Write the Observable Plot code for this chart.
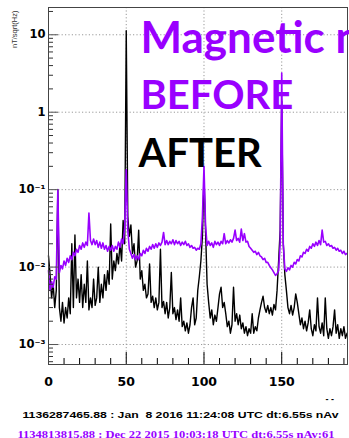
<!DOCTYPE html>
<html><head><meta charset="utf-8">
<script src="https://cdn.jsdelivr.net/npm/d3@7"></script>
<script src="https://cdn.jsdelivr.net/npm/@observablehq/plot@0.6"></script>
<style>body{margin:0;background:#fff;overflow:hidden}</style>
</head><body><div id="chart"></div><script>
// frequency bins (Hz), 1 Hz spacing
const freq = d3.range(0, 193);
// BEFORE spectrum (nT/sqrt(Hz)), purple
const before = [
0.009,0.005,0.0065,0.0055,0.0075,0.007,0.1,0.0085,0.0105,0.0095,
0.012,0.0105,0.013,0.0115,0.014,0.0125,0.0155,0.014,0.017,0.0155,
0.019,0.017,0.0205,0.018,0.021,0.019,0.05,0.022,0.0195,0.023,
0.0195,0.022,0.018,0.021,0.0175,0.0205,0.017,0.019,0.016,0.0185,
0.0165,0.019,0.016,0.0185,0.017,0.021,0.018,0.023,0.02,0.032,
0.18,0.03,0.017,0.015,0.013,0.0145,0.0125,0.014,0.0125,0.015,
0.014,0.0165,0.015,0.0175,0.016,0.0185,0.017,0.0195,0.0175,0.02,
0.018,0.0205,0.019,0.021,0.028,0.0195,0.022,0.0195,0.0215,0.02,
0.0225,0.0195,0.022,0.02,0.0215,0.019,0.021,0.0195,0.0215,0.019,
0.02,0.018,0.019,0.0175,0.018,0.0165,0.0175,0.017,0.02,0.045,
0.2,0.035,0.019,0.0215,0.019,0.0205,0.018,0.0215,0.0195,0.021,
0.019,0.0215,0.02,0.027,0.02,0.022,0.0205,0.0225,0.021,0.0235,
0.03,0.022,0.0235,0.021,0.031,0.022,0.027,0.021,0.0215,0.0185,
0.0175,0.0165,0.0155,0.016,0.0145,0.0155,0.014,0.0135,0.0125,0.013,
0.0115,0.0115,0.0105,0.0098,0.0092,0.0085,0.0078,0.0082,0.009,0.02,
3.2,0.02,0.0095,0.0088,0.0098,0.0092,0.0105,0.01,0.0115,0.011,
0.0125,0.012,0.014,0.0135,0.0155,0.015,0.017,0.016,0.0185,0.0175,
0.02,0.0185,0.021,0.019,0.022,0.0195,0.03,0.021,0.0215,0.019,
0.02,0.0185,0.019,0.0175,0.018,0.0165,0.0175,0.016,0.0165,0.015,
0.016,0.0145,0.015
];
// AFTER spectrum (nT/sqrt(Hz)), black
const after = [
0.014,0.008,0.004,0.006,0.003,0.005,0.1,0.003,0.002,0.0035,
0.0019,0.003,0.0022,0.004,0.0025,0.02,0.003,0.026,0.004,0.007,
0.0035,0.008,0.003,0.006,0.0035,0.012,0.0028,0.004,0.003,0.007,
0.0032,0.004,0.01,0.0035,0.006,0.004,0.008,0.005,0.009,0.006,
0.036,0.007,0.012,0.009,0.015,0.011,0.02,0.012,0.04,0.02,
11.3,0.045,0.025,0.035,0.015,0.02,0.01,0.012,0.03,0.007,
0.009,0.005,0.006,0.004,0.0045,0.011,0.0035,0.0042,0.003,0.004,
0.0028,0.0035,0.017,0.003,0.0036,0.0025,0.0035,0.0022,0.003,0.0085,
0.0025,0.003,0.0021,0.0028,0.002,0.004,0.0017,0.002,0.0015,0.0019,
0.0014,0.0018,0.003,0.004,0.0018,0.0022,0.005,0.0075,0.012,0.025,
0.15,0.03,0.006,0.0035,0.0022,0.0028,0.0018,0.0024,0.002,0.003,
0.0045,0.0055,0.003,0.0035,0.0025,0.0017,0.002,0.0014,0.0018,0.0055,
0.002,0.0025,0.0018,0.0024,0.0016,0.0019,0.0014,0.0017,0.0013,0.0016,
0.0014,0.0025,0.0014,0.0017,0.0015,0.0022,0.0028,0.0035,0.0042,0.003,
0.0026,0.0032,0.0025,0.003,0.0024,0.0033,0.0028,0.005,0.012,0.03,
1.4,0.02,0.008,0.005,0.003,0.0025,0.0032,0.0024,0.003,0.0045,
0.0035,0.0025,0.0018,0.0022,0.0016,0.002,0.0015,0.0019,0.0028,0.0016,
0.0013,0.0018,0.0015,0.004,0.0017,0.0014,0.0019,0.0013,0.004,0.0016,
0.0012,0.0016,0.0013,0.0017,0.0028,0.0014,0.0018,0.0012,0.0016,0.0013,
0.0017,0.0012,0.0014
];
// axes
const yTicks = [10, 1, 0.1, 0.01, 0.001];
const yTickLabels = ["10", "1", "10\u207B\u00B9", "10\u207B\u00B2", "10\u207B\u00B3"];
const yMinor = [20,9,8,7,6,5,4,3,2,0.9,0.8,0.7,0.6,0.5,0.4,0.3,0.2,0.09,0.08,0.07,0.06,0.05,0.04,0.03,0.02,
  0.009,0.008,0.007,0.006,0.005,0.004,0.003,0.002,0.0009,0.0008,0.0007,0.0006];
const xTicks = [0, 50, 100, 150];
const xGrid = [50, 100, 150];
const xMinor = [10,20,30,40,60,70,80,90,110,120,130,140,160,170,180,190];
// annotations
const yLabel = "nT/sqrt(Hz)";
const titleText = "Magnetic noise";
const beforeText = "BEFORE";
const afterText = "AFTER";
const caption1 = "1136287465.88 : Jan  8 2016 11:24:08 UTC dt:6.55s nAv";
const caption2 = "1134813815.88 : Dec 22 2015 10:03:18 UTC dt:6.55s nAv:61";
const cornerMark = "- -";

const purple = "#9900ff";
const W = 349, H = 438, mL = 48, mR = 2, mT = 7, mB = 74;
const plotW = W - mL - mR, plotH = H - mT - mB;
const rows = freq.map((f, i) => ({f, before: before[i], after: after[i]}));
const grid = {stroke: "#999", strokeDasharray: "1.2,2.2", strokeWidth: 1};
const big = {fontFamily: "Lato", fontWeight: "bold", textAnchor: "start", lineAnchor: "bottom", frameAnchor: "top-left"};

const svg = Plot.plot({
  width: W, height: H,
  marginLeft: mL, marginRight: mR, marginTop: mT, marginBottom: mB,
  style: {background: "#fff", fontFamily: "DejaVu Sans"},
  x: {domain: [0, 192.3]},
  y: {type: "log", domain: [0.000552, 22.5]},
  marks: [
    Plot.ruleY(yTicks, grid),
    Plot.ruleX(xGrid, grid),
    Plot.lineY(rows, {x: "f", y: "after", stroke: "#000", strokeWidth: 1.4}),
    Plot.lineY(rows, {x: "f", y: "before", stroke: purple, strokeWidth: 1.6}),
    Plot.ruleY(yTicks, {insetRight: plotW - 10, stroke: "#555"}),
    Plot.ruleY(yMinor, {insetRight: plotW - 5, stroke: "#333"}),
    Plot.ruleX(xTicks, {insetTop: plotH - 12, stroke: "#000"}),
    Plot.ruleX(xMinor, {insetTop: plotH - 6, stroke: "#000"}),
    Plot.frame({stroke: "#444"}),
    Plot.axisY({ticks: yTicks, tickFormat: d => yTickLabels[yTicks.indexOf(d)], tickSize: 0, tickPadding: 3,
      fontSize: 11.5, fontWeight: "bold", label: null}),
    Plot.axisX({ticks: xTicks, tickSize: 0, tickPadding: 13, fontSize: 12.5, fontWeight: "bold", label: null}),
    Plot.text([yLabel], {text: d => d, frameAnchor: "top-left", dx: -34, dy: 3, rotate: -90, textAnchor: "end",
      lineAnchor: "middle", fontSize: 7.5, fontFamily: "Liberation Sans", fill: "#333"}),
    Plot.text([titleText], {...big, text: d => d, dx: 92, dy: 45, fontSize: 44, fill: purple}),
    Plot.text([beforeText], {...big, text: d => d, dx: 92, dy: 101, fontSize: 40, fill: purple}),
    Plot.text([afterText], {...big, text: d => d, dx: 90, dy: 159, fontSize: 40, fill: "#000"}),
    Plot.text([caption1], {text: d => d, frameAnchor: "bottom-left", dx: 22 - mL, dy: 53, textAnchor: "start",
      lineAnchor: "bottom", fontSize: 8.5, fontWeight: "bold", fontFamily: "Liberation Sans", fill: "#000"}),
    Plot.text([caption2], {text: d => d, frameAnchor: "bottom-left", dx: 17 - mL, dy: 73, textAnchor: "start",
      lineAnchor: "bottom", fontSize: 9.5, fontWeight: "bold", fontFamily: "Liberation Serif", fill: purple}),
    Plot.text([cornerMark], {text: d => d, frameAnchor: "bottom-left", dx: 325 - mL, dy: 37, textAnchor: "start",
      lineAnchor: "bottom", fontSize: 9, fontWeight: "bold", fontFamily: "Liberation Sans", fill: "#000"})
  ]
});
d3.select(svg).selectAll("text").each(function () {
  const t = this.textContent;
  if (t === caption1) d3.select(this).attr("textLength", 316).attr("lengthAdjust", "spacingAndGlyphs");
  if (t === caption2) d3.select(this).attr("textLength", 317).attr("lengthAdjust", "spacingAndGlyphs");
});
document.getElementById("chart").append(svg);
</script></body></html>
